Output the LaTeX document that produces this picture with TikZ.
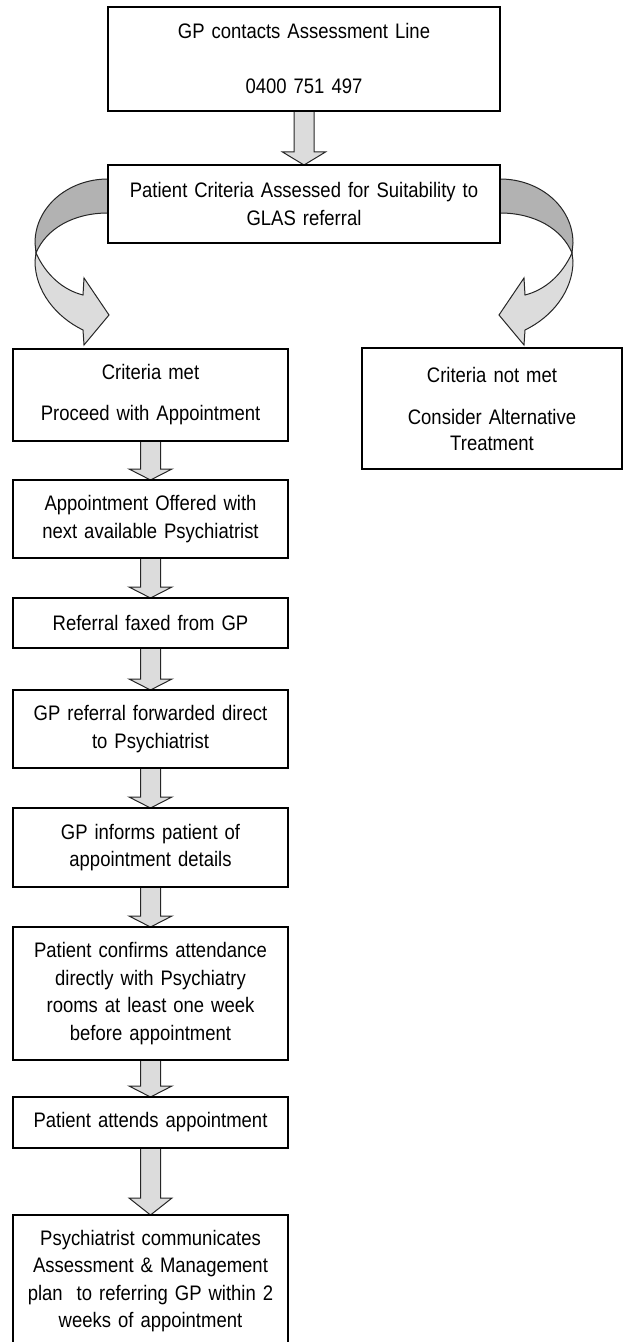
\documentclass[tikz,border=0pt]{standalone}
\usepackage{fontspec}
\setmainfont[FakeStretch=0.88, WordSpace=0.8]{Liberation Sans}
\usetikzlibrary{positioning,backgrounds}
\definecolor{arrowgray}{HTML}{DCDCDC}
\definecolor{bandgray}{HTML}{B2B2B2}
\tikzset{%
stepbox/.style={rectangle, draw=black, line width=1.4pt, fill=white, inner sep=0pt, outer sep=0pt,
  align=center, font=\fontsize{10.5}{13.75}\selectfont},
leftbox/.style={stepbox, text width=137.5pt, minimum width=137.5pt},
blockarrow/.style={draw=black!85, line width=0.5pt, fill=arrowgray},
darkband/.style={draw=black!85, line width=0.5pt, fill=bandgray},
lightband/.style={draw=black!85, line width=0.5pt, fill=arrowgray},
twist/.pic={
  \path[darkband] (0,14) .. controls (-40,14) and (-73,42) .. (-73,78) -- (-72,88)
     .. controls (-62,64) and (-35,48) .. (0,48) -- cycle;
  \path[lightband] (-72,88) -- (-73,96) .. controls (-73,126) and (-52,152) .. (-25,165)
     -- (-24,180) -- (1,150) -- (-24,113) -- (-25,130)
     .. controls (-45,125) and (-62,110) .. (-72,88) -- cycle;
}
}
% fat down arrow from box #2 to box #3, #1 = head height
\newcommand{\blockarr}[3][5.5pt]{%
  \path[blockarrow] ([xshift=-5pt]#2.south) -- ([xshift=-5pt,yshift=#1]#3.north)
    -- ([xshift=-10.75pt,yshift=#1]#3.north) -- (#3.north)
    -- ([xshift=10.75pt,yshift=#1]#3.north) -- ([xshift=5pt,yshift=#1]#3.north)
    -- ([xshift=5pt]#2.south) -- cycle;}

\begin{document}
\begin{tikzpicture}
	\useasboundingbox (0,0) rectangle (312.5pt,-671pt);
	\clip (0,0) rectangle (312.5pt,-671pt);

	\node[stepbox, text width=196pt, minimum width=196pt, minimum height=52pt, anchor=north] (line) at (152pt,-3.5pt)
		{GP contacts Assessment Line\\[13.75pt]0400 751 497};
	\node[stepbox, text width=196pt, minimum width=196pt, minimum height=39pt] (assess) [below=27pt of line]
		{Patient Criteria Assessed for Suitability to\\GLAS referral};
	\node[leftbox, minimum height=46pt] (met) [below=53pt of assess, xshift=-76.75pt]
		{Criteria met\\[6.75pt]Proceed with Appointment};
	\node[stepbox, text width=130pt, minimum width=130pt, minimum height=60.5pt] (notmet) [below=52.5pt of assess, xshift=94pt]
		{Criteria not met\\[7.5pt]Consider Alternative\\[-1pt]Treatment};
	\node[leftbox, minimum height=39pt] (offered) [below=19.5pt of met]
		{Appointment Offered with\\next available Psychiatrist};
	\node[leftbox, minimum height=25pt] (faxed) [below=20pt of offered] {Referral faxed from GP};
	\node[leftbox, minimum height=39pt] (forwarded) [below=21pt of faxed]
		{GP referral forwarded direct\\to Psychiatrist};
	\node[leftbox, minimum height=39.5pt] (informs) [below=20pt of forwarded]
		{GP informs patient of\\appointment details};
	\node[leftbox, minimum height=66.5pt] (confirms) [below=20pt of informs]
		{Patient confirms attendance\\directly with Psychiatry\\rooms at least one week\\before appointment};
	\node[leftbox, minimum height=25.5pt] (attends) [below=18.5pt of confirms] {Patient attends appointment};
	\node[leftbox, minimum height=66pt] (comm) [below=33.5pt of attends]
		{Psychiatrist communicates\\Assessment \& Management\\plan\ \ to referring GP within 2\\weeks of appointment};

	\begin{scope}[on background layer]
		\blockarr[6.5pt]{line}{assess}
		\pic[x=0.5pt, y=-0.5pt] at (assess.north west) {twist};
		\pic[x=-0.5pt, y=-0.5pt] at (assess.north east) {twist};
		\blockarr{met}{offered}
		\blockarr{offered}{faxed}
		\blockarr{faxed}{forwarded}
		\blockarr{forwarded}{informs}
		\blockarr{informs}{confirms}
		\blockarr{confirms}{attends}
		\blockarr[8.5pt]{attends}{comm}
	\end{scope}
\end{tikzpicture}
\end{document}
